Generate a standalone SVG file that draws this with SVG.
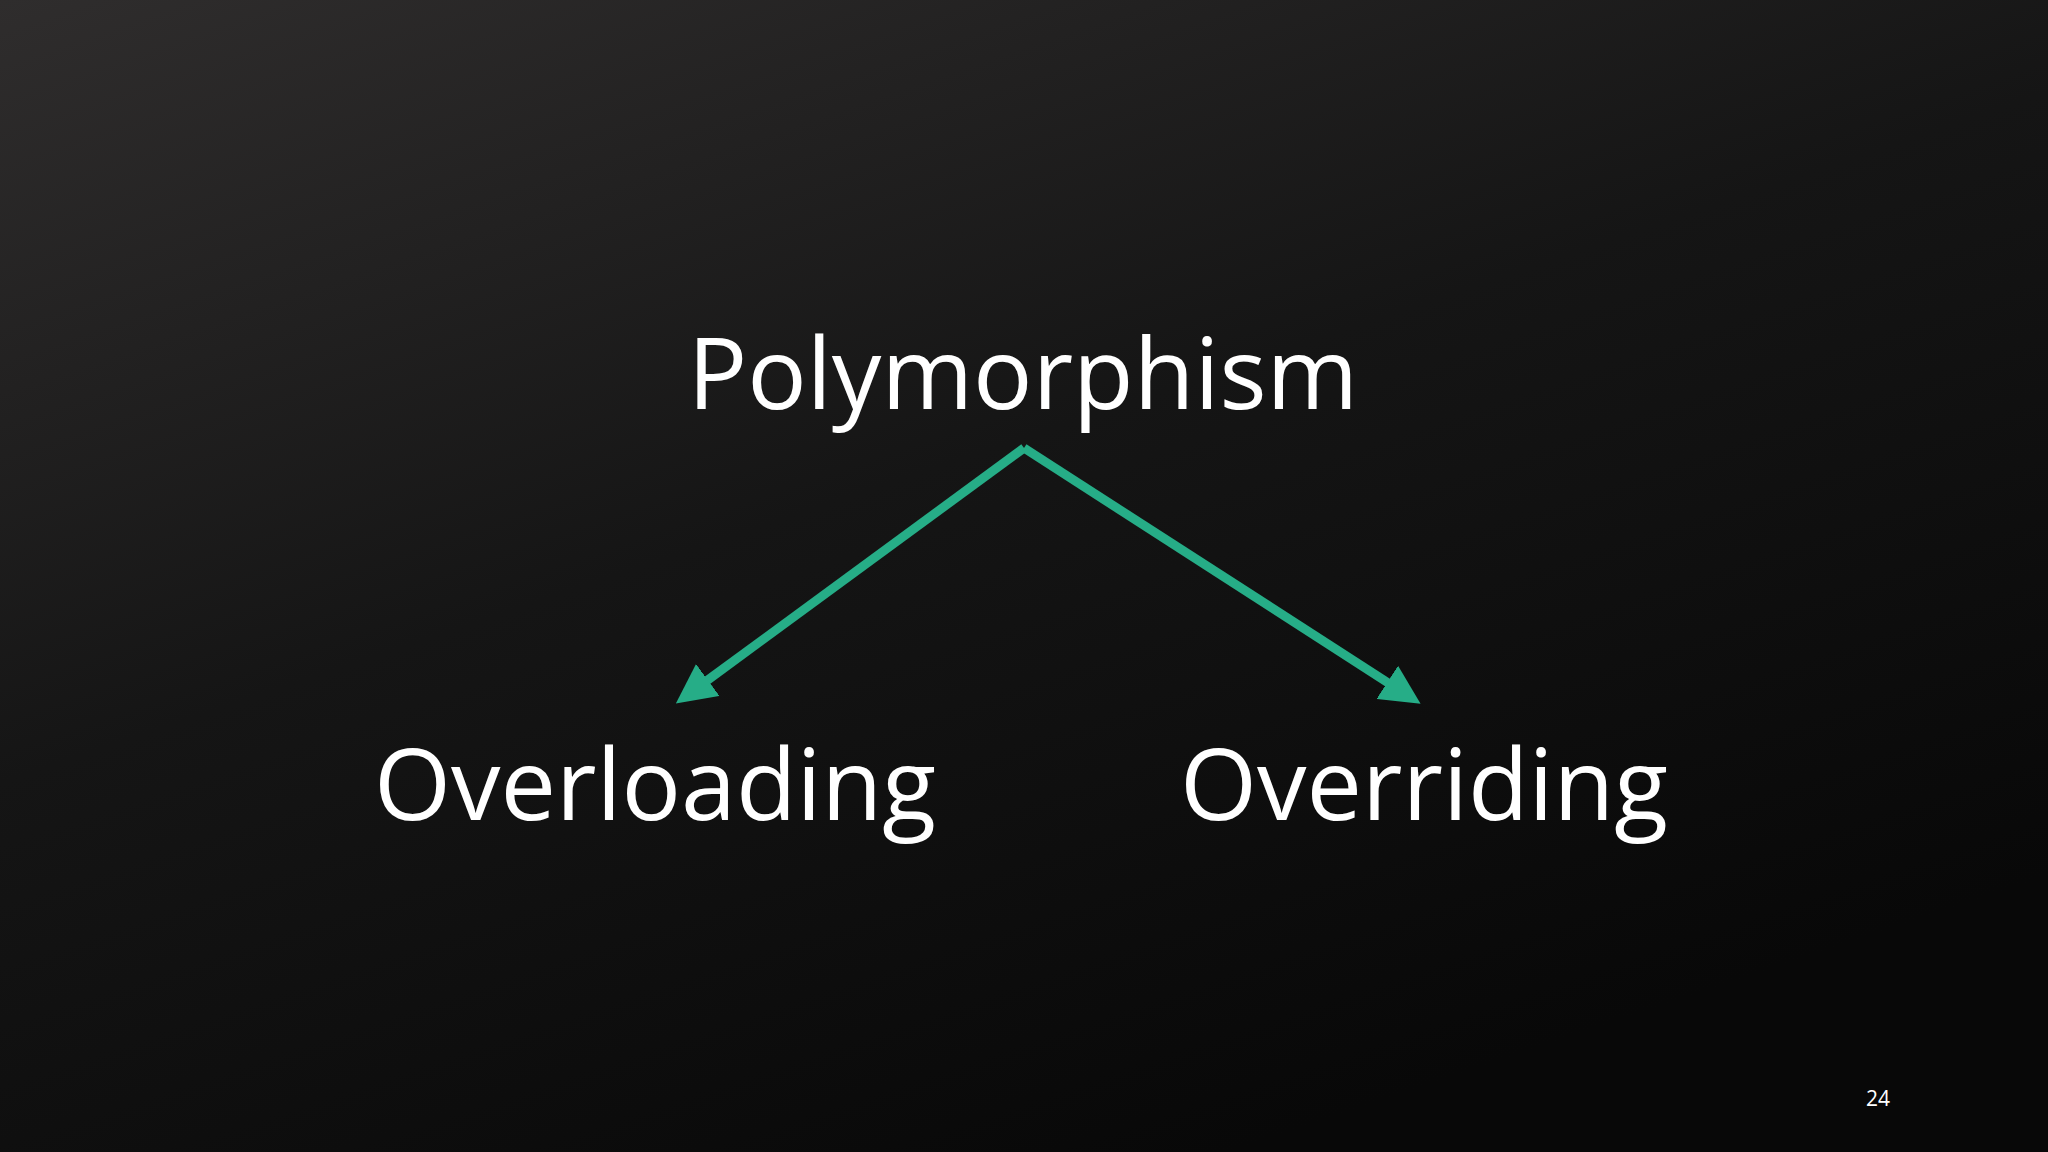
<svg xmlns="http://www.w3.org/2000/svg" width="2048" height="1152" viewBox="0 0 2048 1152">
<defs>
<linearGradient id="bg" x1="0" y1="0" x2="0.6" y2="1">
<stop offset="0" stop-color="#2f2d2d"/>
<stop offset="0.5" stop-color="#151515"/>
<stop offset="1" stop-color="#080808"/>
</linearGradient>
<marker id="ah" markerWidth="4.4" markerHeight="4.4" refX="3" refY="2.2" orient="auto" markerUnits="strokeWidth">
<path d="M0,0 L4.4,2.2 L0,4.4 z" fill="#26ad87"/>
</marker>
<style>
.t{font-family:"Open Sans","Noto Sans",sans-serif;fill:#fff;text-anchor:middle}
.c{stroke:#26ad87;stroke-width:9;fill:none}
</style>
</defs>
<rect width="2048" height="1152" fill="url(#bg)"/>
<g id="connectors">
<path class="c" d="M1024,448 L686,696" marker-end="url(#ah)"/>
<path class="c" d="M1024,448 L1410,697" marker-end="url(#ah)"/>
</g>
<g id="polymorphism"><text class="t" x="1023" y="409" font-size="99">Polymorphism</text></g>
<g id="overloading"><text class="t" x="655" y="820" font-size="99">Overloading</text></g>
<g id="overriding"><text class="t" x="1424" y="820" font-size="99">Overriding</text></g>
<text class="t" x="1878" y="1106" font-size="21">24</text>
</svg>
